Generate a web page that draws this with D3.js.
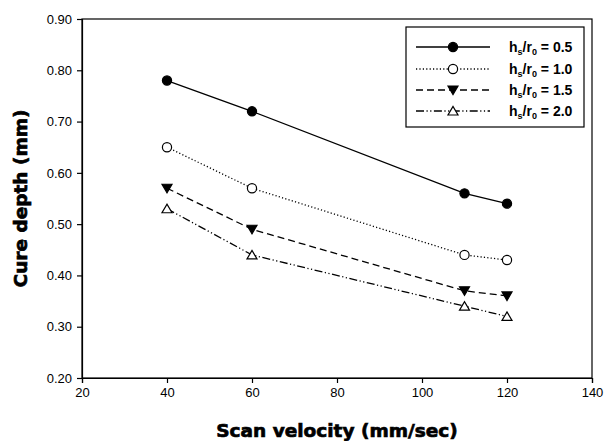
<!DOCTYPE html>
<html>
<head>
<meta charset="utf-8">
<script src="https://cdn.jsdelivr.net/npm/d3@7"></script>
<style>
  body { margin: 0; background: #fff; }
  svg { display: block; font-family: 'Liberation Sans', Arial, sans-serif; }
</style>
</head>
<body>
<div id="chart"></div>
<script>
// scan velocity (mm/sec)
const velocities = [40, 60, 110, 120];
// cure depth (mm), one array per hs/r0 ratio
const depth05 = [0.78, 0.72, 0.56, 0.54];
const depth10 = [0.65, 0.57, 0.44, 0.43];
const depth15 = [0.57, 0.49, 0.37, 0.36];
const depth20 = [0.53, 0.44, 0.34, 0.32];
const ratioLabels = ['0.5', '1.0', '1.5', '2.0'];
const xTicks = [20, 40, 60, 80, 100, 120, 140];
const yTicks = [0.2, 0.3, 0.4, 0.5, 0.6, 0.7, 0.8, 0.9];

const width = 604;
const height = 441;
const marginLeft = 82;
const marginRight = 12;
const marginTop = 19;
const marginBottom = 63;

const series = [
  { label: ratioLabels[0], values: depth05, dash: null, marker: 'circle', fill: '#000' },
  { label: ratioLabels[1], values: depth10, dash: '1.2,2.2', marker: 'circle', fill: '#fff' },
  { label: ratioLabels[2], values: depth15, dash: '7,4', marker: 'down', fill: '#000' },
  { label: ratioLabels[3], values: depth20, dash: '8,2.5,1.2,2.5,1.2,2.5', marker: 'up', fill: '#fff' }
];

const x = d3.scaleLinear().domain([20, 140]).range([marginLeft, width - marginRight]);
const y = d3.scaleLinear().domain([0.2, 0.9]).range([height - marginBottom, marginTop]);

const svg = d3.select('#chart').append('svg')
  .attr('width', width)
  .attr('height', height)
  .attr('viewBox', [0, 0, width, height]);

// frame (top and right edges)
svg.append('rect')
  .attr('x', x(20)).attr('y', y(0.9))
  .attr('width', x(140) - x(20)).attr('height', y(0.2) - y(0.9))
  .attr('fill', 'none').attr('stroke', '#000').attr('stroke-width', 1.2);

const xAxis = svg.append('g')
  .attr('transform', `translate(0,${y(0.2)})`)
  .call(d3.axisBottom(x).tickValues(xTicks).tickSize(5).tickPadding(5).tickFormat(d3.format('d')));

const yAxis = svg.append('g')
  .attr('transform', `translate(${x(20)},0)`)
  .call(d3.axisLeft(y).tickValues(yTicks).tickSize(5).tickPadding(5).tickFormat(d3.format('.2f')));

[xAxis, yAxis].forEach((g) => {
  g.select('.domain').attr('stroke-width', 1.2);
  g.selectAll('.tick line').attr('stroke-width', 1.2);
  g.selectAll('.tick text')
    .attr('font-size', 13)
    .attr('font-family', "'Liberation Sans', Arial, sans-serif")
    .attr('fill', '#000');
});

// axis titles (heavy, like Arial Black)
svg.append('text')
  .attr('x', (x(20) + x(140)) / 2)
  .attr('y', 437)
  .attr('text-anchor', 'middle')
  .attr('font-size', 18.5)
  .attr('font-weight', 900)
  .attr('font-family', "'DejaVu Sans', 'Liberation Sans', sans-serif")
  .attr('stroke', '#000')
  .attr('stroke-width', 0.7)
  .text('Scan velocity (mm/sec)');

svg.append('text')
  .attr('transform', `translate(27,${(y(0.2) + y(0.9)) / 2}) rotate(-90)`)
  .attr('text-anchor', 'middle')
  .attr('font-size', 18.5)
  .attr('font-weight', 900)
  .attr('font-family', "'DejaVu Sans', 'Liberation Sans', sans-serif")
  .attr('stroke', '#000')
  .attr('stroke-width', 0.7)
  .text('Cure depth (mm)');

const line = d3.line()
  .x((d, i) => x(velocities[i]))
  .y((d) => y(d));

function drawMarker(g, type, fill, cx, cy) {
  if (type === 'circle') {
    g.append('circle')
      .attr('cx', cx).attr('cy', cy).attr('r', 4.6)
      .attr('fill', fill).attr('stroke', '#000').attr('stroke-width', 1.2);
  } else {
    const s = 5;
    const pts = type === 'down'
      ? [[cx - s, cy - s * 0.8], [cx + s, cy - s * 0.8], [cx, cy + s * 0.9]]
      : [[cx - s, cy + s * 0.8], [cx + s, cy + s * 0.8], [cx, cy - s * 0.9]];
    g.append('polygon')
      .attr('points', pts.map((p) => p.join(',')).join(' '))
      .attr('fill', fill).attr('stroke', '#000').attr('stroke-width', 1.2);
  }
}

const gLines = svg.append('g');
series.forEach((s) => {
  gLines.append('path')
    .datum(s.values)
    .attr('d', line)
    .attr('fill', 'none')
    .attr('stroke', '#000')
    .attr('stroke-width', 1.3)
    .attr('stroke-dasharray', s.dash);
  s.values.forEach((v, i) => drawMarker(gLines, s.marker, s.fill, x(velocities[i]), y(v)));
});

// legend
const legend = svg.append('g');
legend.append('rect')
  .attr('x', 406).attr('y', 27)
  .attr('width', 178).attr('height', 100)
  .attr('fill', '#fff').attr('stroke', '#000').attr('stroke-width', 1.2);

const rowY = [47, 69, 90, 111];
series.forEach((s, i) => {
  const ly = rowY[i];
  legend.append('line')
    .attr('x1', 416).attr('x2', 490)
    .attr('y1', ly).attr('y2', ly)
    .attr('stroke', '#000').attr('stroke-width', 1.3)
    .attr('stroke-dasharray', s.dash);
  drawMarker(legend, s.marker, s.fill, 453, ly);
  const t = legend.append('text')
    .attr('x', 509).attr('y', ly + 5)
    .attr('font-size', 14)
    .attr('font-weight', 'bold');
  t.append('tspan').text('h');
  t.append('tspan').attr('font-size', 9).attr('dy', 3).text('s');
  t.append('tspan').attr('dy', -3).text('/r');
  t.append('tspan').attr('font-size', 9).attr('dy', 3).text('0');
  t.append('tspan').attr('dy', -3).text(` = ${s.label}`);
});
</script>
</body>
</html>
